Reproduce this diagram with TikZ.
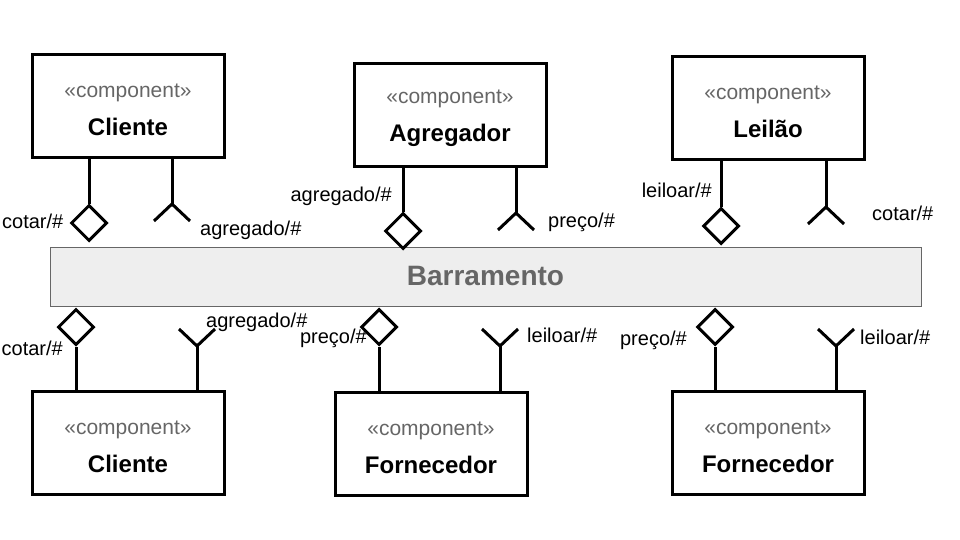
\documentclass[tikz,border=0pt]{standalone}
\usepackage{fontspec}
\setmainfont{Liberation Sans}
\usetikzlibrary{positioning,shapes.geometric}
\definecolor{stereogray}{HTML}{666666}
\definecolor{busfill}{HTML}{EEEEEE}
\newcommand{\compname}[1]{\rule{0pt}{21pt}{\color{stereogray}«component»}\\[14pt]{\fontsize{24}{28}\selectfont\bfseries #1}}

\begin{document}
\begin{tikzpicture}[
    x=1pt, y=-1pt,
    comp/.style={draw, line width=3pt, minimum width=192pt, minimum height=103pt, align=center, inner sep=0pt, font=\fontsize{21}{24}\selectfont},
    bus/.style={draw=stereogray, fill=busfill, line width=1pt, minimum width=871pt, minimum height=59pt, text=stereogray, font=\fontsize{28}{32}\selectfont\bfseries},
    prov/.style={draw, diamond, line width=3pt, fill=white, minimum size=36pt, inner sep=0pt},
    port/.style={line width=3pt},
    lbl/.style={inner sep=0pt, text height=14pt, text depth=4pt, font=\fontsize{20}{24}\selectfont},
  ]
    \useasboundingbox (0,0) rectangle (960,540);
    \node[bus] (bus) at (485.5,276.5) {Barramento};

    \node[comp] (cli1) at (128,106) {\compname{Cliente}};
    \node[comp] (agr) at (450,115) {\compname{Agregador}};
    \node[comp] (lei) at (768,108) {\compname{Leilão}};
    \node[comp] (cli2) at (128,443) {\compname{Cliente}};
    \node[comp] (forn1) at (431,444) {\compname{Fornecedor}};
    \node[comp] (forn2) at (768,443) {\compname{Fornecedor}};

    \node[prov] (d1) at (89,223) {};
    \node[prov] (d2) at (403,231) {};
    \node[prov] (d3) at (721,226) {};
    \node[prov] (d4) at (76,327) {};
    \node[prov] (d5) at (379,327) {};
    \node[prov] (d6) at (715,327) {};
    \draw[port] (cli1.south -| d1) -- (d1.north);
    \draw[port] (agr.south -| d2) -- (d2.north);
    \draw[port] (lei.south -| d3) -- (d3.north);
    \draw[port] (cli2.north -| d4) -- (d4.south);
    \draw[port] (forn1.north -| d5) -- (d5.south);
    \draw[port] (forn2.north -| d6) -- (d6.south);

    \coordinate (f1) at (172,204);
    \coordinate (f2) at (516,213);
    \coordinate (f3) at (826,207);
    \coordinate (f4) at (197,346);
    \coordinate (f5) at (500,346);
    \coordinate (f6) at (836,346);
    \draw[port] (cli1.south -| f1) -- (f1);
    \draw[port] (agr.south -| f2) -- (f2);
    \draw[port] (lei.south -| f3) -- (f3);
    \draw[port] (cli2.north -| f4) -- (f4);
    \draw[port] (forn1.north -| f5) -- (f5);
    \draw[port] (forn2.north -| f6) -- (f6);
    \draw[port] (f1) ++(-18,17) -- (f1) -- ++(18,17);
    \draw[port] (f2) ++(-18,17) -- (f2) -- ++(18,17);
    \draw[port] (f3) ++(-18,17) -- (f3) -- ++(18,17);
    \draw[port] (f4) ++(-18,-17) -- (f4) -- ++(18,-17);
    \draw[port] (f5) ++(-18,-17) -- (f5) -- ++(18,-17);
    \draw[port] (f6) ++(-18,-17) -- (f6) -- ++(18,-17);

    \node[lbl, left=6pt of d1] (l1) {cotar/\#};
    \node[lbl, anchor=west] (l2) at (200,230) {agregado/\#};
    \node[lbl, anchor=east] (l3) at (392,196) {agregado/\#};
    \node[lbl, anchor=west] (l4) at (548,222) {preço/\#};
    \node[lbl, anchor=east] (l5) at (712,192) {leiloar/\#};
    \node[lbl, anchor=west] (l6) at (872,215) {cotar/\#};
    \node[lbl, anchor=east] (l7) at (63,350) {cotar/\#};
    \node[lbl, anchor=west] (l8) at (206,322) {agregado/\#};
    \node[lbl, anchor=east] (l9) at (367,338) {preço/\#};
    \node[lbl, anchor=west] (l10) at (527,337) {leiloar/\#};
    \node[lbl, anchor=east] (l11) at (687,340) {preço/\#};
    \node[lbl, anchor=west] (l12) at (860,339) {leiloar/\#};
  \end{tikzpicture}
\end{document}
